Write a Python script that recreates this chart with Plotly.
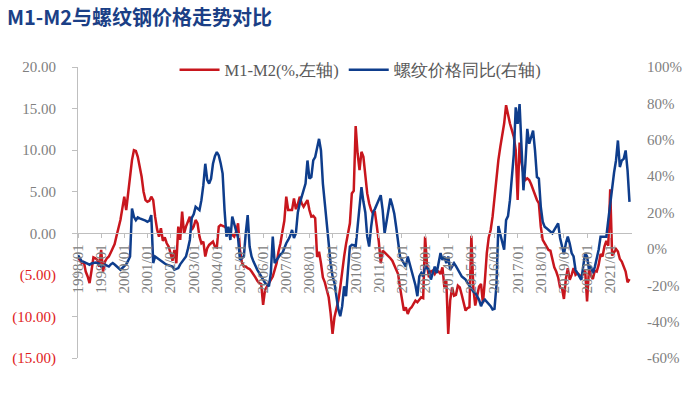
import plotly.graph_objects as go

# ---------------- data ----------------
months = [f"{y}/{m:02d}" for y in range(1998, 2022) for m in range(1, 13)][:287]

m1_m2 = [
    # 1998
    -2.9, -3.2, -3.6, -3.4, -4.6, -5.2, -6.0, -4.5, -2.9, -3.0, -3.2, -4.0,
    # 1999
    -2.0, -4.6, -3.4, -3.0, -2.8, -2.3, -1.8, -1.3, -0.3, 0.6, 1.6, 3.0,
    # 2000
    4.4, 2.8, 5.0, 7.2, 8.8, 10.0, 9.9, 9.2, 8.0, 6.8, 5.0, 4.0,
    # 2001
    3.8, 3.9, 4.4, 4.0, 2.0, 0.5, -0.4, 0.6, -0.9, -0.5, -1.2, -1.6,
    # 2002
    -2.4, -3.3, -2.0, -3.6, 0.8, -0.8, 2.6, 0.0, 0.8, 1.5, 2.0, 0.4,
    # 2003
    0.8, 1.6, 1.2, -0.4, -1.2, -1.0, -2.8, -1.8, -1.4, -1.2, -1.0, -1.6,
    # 2004
    -1.7, 0.8, 1.0, 0.9, 0.8, 0.6, 0.4, 0.1, -0.2, -0.4, 0.2, 1.2,
    # 2005
    -2.0, -3.5, -4.0, -4.0, -4.2, -4.3, -4.6, -4.9, -5.3, -5.7, -6.0, -6.1,
    # 2006
    -8.6, -6.8, -6.3, -6.0, -5.6, -5.2, -4.4, -3.6, -2.2, -1.2, 0.2, 1.5,
    # 2007
    4.4, 2.8, 2.8, 2.8, 4.2, 2.9, 3.5, 4.4, 3.6, 3.2, 3.6, 4.0,
    # 2008
    2.8, 2.0, 2.1, 1.8, -2.85, -2.2, -3.6, -5.3, -5.9, -6.8, -7.7, -9.6,
    # 2009
    -12.1, -10.1, -9.0, -8.1, -6.5, -4.5, -2.8, -1.3, 0.0, 1.2, 4.8, 5.1,
    # 2010
    12.9, 9.6, 7.6, 9.8, 9.2, 6.8, 4.8, 3.6, 2.8, 2.4, 2.5, 0.8,
    # 2011
    -1.0, -3.6, -2.1, -2.3, -2.5, -2.8, -3.0, -3.3, -3.8, -4.3, -4.9, -6.5,
    # 2012
    -8.1, -9.3, -8.9, -9.7, -9.1, -8.9, -8.5, -8.1, -8.3, -8.0, -7.7, -7.8,
    # 2013
    -0.4, -3.8, -5.3, -4.6, -4.5, -4.9, -4.5, -4.6, -4.9, -4.1, -6.5, -5.7,
    # 2014
    -12.1, -8.1, -6.5, -7.5, -7.4, -6.3, -6.5, -7.4, -8.5, -9.3, -9.0, -8.9,
    # 2015
    -0.3, -6.5, -8.7, -7.3, -6.4, -6.1, -8.4, -5.7, -2.4, -0.5, 0.4, 2.0,
    # 2016
    4.4, 6.0, 8.8, 10.4, 11.6, 13.2, 15.4, 14.2, 13.2, 12.4, 11.6, 10.0,
    # 2017
    4.0, 10.9, 8.5, 7.2, 6.4, 6.6, 6.4, 5.9, 5.2, 4.6, 4.0, 3.6,
    # 2018
    0.8, -0.8, -1.2, -1.6, -2.0, -2.1, -3.2, -4.1, -4.6, -5.3, -6.5, -6.6,
    # 2019
    -7.9, -5.5, -4.2, -5.6, -5.0, -4.2, -5.0, -4.8, -5.0, -5.3, -4.8, -4.5,
    # 2020
    -8.2, -4.3, -5.1, -5.5, -4.5, -4.6, -3.8, -2.5, -2.8, -1.6, -0.9, -1.5,
    # 2021
    5.3, -2.7, -2.3, -1.9, -2.2, -3.1, -3.4, -4.0, -4.6, -5.9, -5.5,
]

rebar_yoy = [
    # 1998
    -3.5, -5.0, -6.9, -7.2, -7.8, -8.2, -8.7, -8.0, -7.8, -7.5, -7.8, -8.2,
    # 1999
    -9.7, -9.0, -8.7, -9.2, -9.7, -8.5, -7.8, -8.6, -9.7, -10.5, -11.5, -10.5,
    # 2000
    -9.7, -8.5, -6.5, -4.2, 22.2, 17.6, 15.8, 17.3, 16.8, 16.5, 15.8, 15.5,
    # 2001
    14.9, 15.5, 18.6, -7.8, -4.2, -5.0, -6.0, -6.9, -7.5, -8.0, -8.7, -9.0,
    # 2002
    -9.5, -9.7, -11.5, -11.0, -10.6, -8.5, -7.0, -5.5, -4.2, 0.0, 4.9, 17.0,
    # 2003
    19.0, 23.1, 22.0, 21.3, 26.8, 35.0, 46.8, 38.0, 35.9, 38.6, 46.8, 51.0,
    # 2004
    53.2, 51.4, 47.0, 41.4, 21.3, 6.7, 12.2, 4.9, 17.7, 14.0, 10.4, 6.0,
    # 2005
    -6.0, -5.0, -4.2, 8.6, 18.6, 1.3, -4.2, -7.0, -9.7, -11.5, -13.3, -15.1,
    # 2006
    -16.5, -18.7, -19.5, -20.6, -13.3, 6.7, -7.8, -6.0, -4.2, -3.0, -2.3, 0.5,
    # 2007
    3.1, 4.9, 7.0, 10.4, 6.0, 8.6, 20.0, 25.0, 28.6, 32.0, 35.9, 48.6,
    # 2008
    38.6, 39.5, 48.6, 50.5, 55.0, 60.5, 54.1, 35.9, 25.0, 12.0, 3.1, -8.0,
    # 2009
    -15.1, -18.7, -26.0, -33.3, -37.0, -31.5, -20.6, -26.0, -12.0, 1.3, 2.2, 2.0,
    # 2010
    1.3, 12.2, 23.1, 34.0, 26.0, 20.0, 6.7, 1.3, 12.0, 20.0, 22.0, 25.0,
    # 2011
    27.0, 29.5, 21.3, 8.6, 15.0, 21.3, 27.7, 24.0, 19.5, 12.0, 4.0, -4.2,
    # 2012
    -6.0, -7.8, -9.7, -4.2, -8.0, -11.5, -15.1, -20.0, -26.0, -15.1, -13.3, -15.1,
    # 2013
    -9.7, -10.5, -11.5, -16.9, -13.0, -9.7, -13.3, -8.0, -2.3, -6.0, -4.2, -7.8,
    # 2014
    -4.2, -11.5, -9.5, -7.8, -9.5, -11.5, -13.3, -15.1, -16.0, -16.9, -18.7, -20.5,
    # 2015
    -22.4, -23.5, -24.2, -26.0, -28.0, -31.5, -29.0, -27.9, -29.0, -30.0, -31.5, -33.3,
    # 2016
    -33.0, -20.0, 12.5, 8.0, 3.0, -0.5, 15.8, 18.0, 26.8, 39.5, 52.0, 77.8,
    # 2017
    68.7, 79.6, 50.4, 32.2, 46.8, 66.0, 57.8, 61.4, 65.0, 54.1, 39.5, 38.6,
    # 2018
    23.1, 15.0, 12.2, 11.3, 10.4, 9.5, 8.6, 10.4, 12.0, 14.0, 6.0, 0.5,
    # 2019
    -3.0, 3.1, 6.7, 3.0, -2.3, -4.2, -11.5, -13.3, -15.0, -17.0, -9.7, -2.3,
    # 2020
    -4.2, -11.5, -9.7, -13.3, -10.0, -6.0, -0.5, 6.7, 6.7, 6.7, 6.7, 15.8,
    # 2021
    25.0, 34.0, 42.0, 48.6, 59.6, 45.0, 48.6, 49.5, 54.1, 43.2, 25.8,
]

left_ticks = [-15, -10, -5, 0, 5, 10, 15, 20]
right_ticks = [-60, -40, -20, 0, 20, 40, 60, 80, 100]
x_ticks = months[::12]

# ---------------- styling ----------------
RED = "#C8161D"
BLUE = "#0E3D8C"
GRAY = "#808080"
AXIS = "#BFBFBF"
NEG_RED = "#E0201B"
SERIF = "Liberation Serif, Times New Roman, serif"


def fmt_left(v):
    if v < 0:
        return f'<span style="color:{NEG_RED}">({abs(v):.2f})</span>'
    return f"{v:.2f}"


left_text = [fmt_left(v) for v in left_ticks]
right_text = [f"{v}%" for v in right_ticks]

fig = go.Figure()
fig.add_trace(go.Scatter(
    x=months, y=m1_m2, name="M1-M2(%,左轴)", mode="lines",
    line=dict(color=RED, width=2.5), yaxis="y",
))
fig.add_trace(go.Scatter(
    x=months, y=rebar_yoy, name="螺纹价格同比(右轴)", mode="lines",
    line=dict(color=BLUE, width=2.5), yaxis="y2",
))

fig.update_layout(
    width=700, height=408,
    margin=dict(l=72, r=68, t=67, b=50),
    paper_bgcolor="white", plot_bgcolor="white",
    showlegend=True,
    title=dict(
        text="<b>M1-M2与螺纹钢价格走势对比</b>",
        font=dict(family="Noto Sans CJK SC", size=20, color="#1B3F86", weight=900),
        xref="container", yref="container",
        x=7 / 700, xanchor="left", y=1 - 18 / 408, yanchor="middle",
    ),
    legend=dict(
        orientation="h", x=0.51, xanchor="center", y=0.99, yanchor="middle",
        font=dict(family=SERIF, size=16.5, color="#595959"),
        bgcolor="rgba(0,0,0,0)", itemwidth=40,
    ),
    xaxis=dict(
        type="category", range=[0, 287.3],
        anchor="free", position=15 / 35,
        showline=True, linecolor=AXIS, linewidth=1,
        ticks="outside", ticklen=4, tickcolor=AXIS,
        tickvals=x_ticks, ticktext=x_ticks, tickangle=-90,
        tickfont=dict(family=SERIF, size=15, color=GRAY),
        showgrid=False, zeroline=False,
    ),
    yaxis=dict(
        range=[-15, 20], tickvals=left_ticks, ticktext=left_text,
        showline=True, linecolor=AXIS, linewidth=1,
        ticks="outside", ticklen=5, tickcolor=AXIS,
        tickfont=dict(family=SERIF, size=15, color=GRAY),
        showgrid=False, zeroline=False, ticklabelstandoff=13,
    ),
    yaxis2=dict(
        range=[-60, 100], tickvals=right_ticks, ticktext=right_text,
        overlaying="y", side="right", showline=False,
        tickfont=dict(family=SERIF, size=15, color=GRAY),
        showgrid=False, zeroline=False, ticklabelstandoff=14,
    ),
)

fig.write_html("out.html")
